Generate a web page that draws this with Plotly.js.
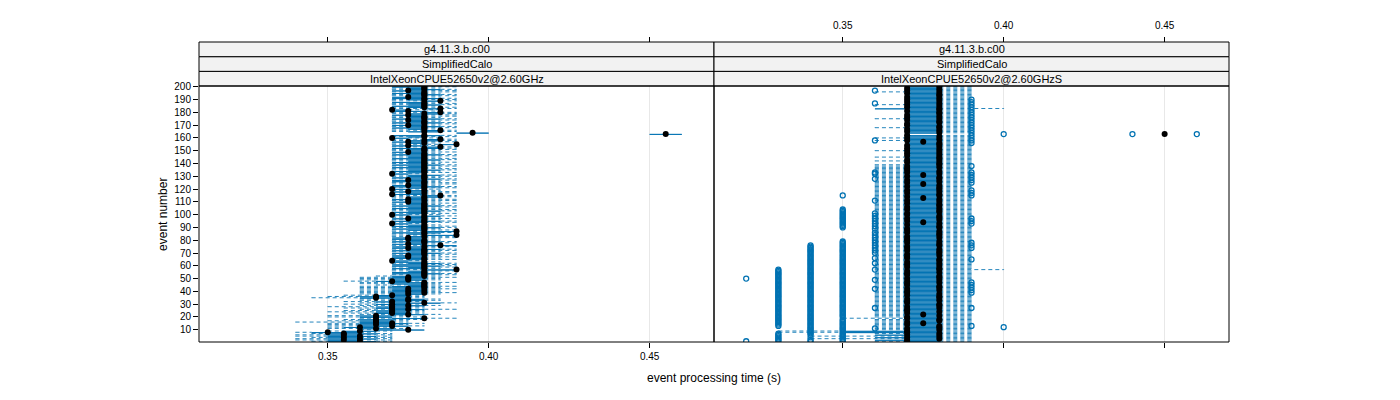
<!DOCTYPE html>
<html>
<head>
<meta charset="utf-8">
<script src="https://cdn.plot.ly/plotly-3.0.1.min.js"></script>
<style>html,body{margin:0;padding:0;background:#fff}#chart{width:1400px;height:400px}</style>
</head>
<body>
<div id="chart"></div>
<script>
// ---------- DATA ----------
const nEvents = 200;
const events = Array.from({length: nEvents}, (_, i) => i + 1);
const yTicks = [10,20,30,40,50,60,70,80,90,100,110,120,130,140,150,160,170,180,190,200];
const xTicks = [0.35, 0.40, 0.45];
const xTickText = ['0.35', '0.40', '0.45'];
const stripGeant = ['g4.11.3.b.c00', 'g4.11.3.b.c00'];
const stripSetup = ['SimplifiedCalo', 'SimplifiedCalo'];
const stripCpu = ['IntelXeonCPUE52650v2@2.60GHz', 'IntelXeonCPUE52650v2@2.60GHzS'];

// Left panel (IntelXeonCPUE52650v2@2.60GHz): per-event box statistics
const L_lo = [
.345,.34,.34,.345,.34,.34,.345,.34,.35,.36,
.35,.35,.35,.35,.35,.34,.35,.355,.36,.35,
.35,.36,.355,.35,.355,.36,.355,.35,.36,.355,
.36,.355,.36,.36,.345,.35,.355,.36,.36,.36,
.36,.36,.36,.36,.365,.36,.36,.355,.36,.36,
.36,.365,.37,.37,.37,.37,.37,.37,.37,.37,
.37,.37,.37,.37,.37,.37,.37,.37,.37,.37,
.37,.37,.37,.37,.37,.37,.37,.37,.37,.37,
.37,.37,.37,.37,.37,.37,.37,.37,.37,.37,
.37,.37,.37,.37,.37,.37,.37,.37,.37,.37,
.37,.37,.37,.37,.37,.37,.37,.37,.37,.37,
.37,.37,.37,.37,.37,.37,.37,.37,.37,.37,
.37,.37,.37,.37,.37,.37,.37,.37,.37,.37,
.37,.37,.37,.37,.37,.37,.37,.37,.37,.37,
.37,.37,.37,.37,.37,.37,.37,.37,.37,.37,
.37,.37,.37,.37,.37,.37,.37,.37,.37,.37,
.37,.37,.45,.39,.37,.37,.37,.37,.37,.37,
.37,.37,.37,.37,.37,.37,.37,.37,.37,.37,
.37,.37,.37,.37,.37,.37,.37,.37,.37,.37,
.37,.37,.37,.37,.37,.37,.37,.37,.37,.37];
const L_q1 = [
.35,.35,.35,.35,.35,.35,.35,.345,.355,.365,
.36,.355,.36,.36,.36,.36,.36,.36,.37,.36,
.36,.37,.365,.365,.365,.37,.365,.365,.37,.365,
.37,.365,.37,.37,.36,.36,.365,.37,.37,.37,
.37,.37,.37,.37,.375,.37,.37,.365,.37,.37,
.37,.37,.375,.37,.37,.375,.38,.37,.375,.37,
.37,.375,.37,.37,.375,.37,.37,.37,.375,.37,
.375,.37,.375,.37,.37,.38,.37,.375,.37,.375,
.37,.37,.375,.38,.375,.37,.38,.375,.37,.375,
.37,.375,.37,.375,.37,.375,.37,.375,.375,.37,
.375,.37,.375,.375,.37,.375,.37,.375,.375,.37,
.375,.37,.375,.375,.38,.37,.375,.37,.375,.37,
.375,.37,.37,.375,.375,.37,.37,.375,.37,.375,
.375,.37,.375,.37,.375,.375,.37,.375,.37,.375,
.37,.375,.375,.37,.375,.375,.37,.375,.37,.375,
.375,.37,.38,.37,.385,.375,.37,.375,.38,.37,
.375,.37,.45,.39,.375,.38,.375,.37,.375,.37,
.375,.37,.375,.375,.37,.375,.375,.37,.375,.38,
.37,.37,.38,.375,.37,.375,.375,.37,.38,.375,
.37,.37,.375,.375,.37,.375,.37,.375,.375,.37];
const L_med = [
.36,.355,.36,.355,.36,.355,.355,.35,.36,.375,
.365,.36,.37,.365,.37,.365,.365,.365,.38,.365,
.365,.375,.37,.37,.37,.375,.37,.37,.375,.37,
.38,.37,.375,.375,.365,.365,.37,.375,.38,.375,
.38,.375,.38,.38,.38,.38,.38,.37,.375,.375,
.375,.38,.38,.38,.38,.38,.39,.38,.38,.38,
.38,.38,.38,.37,.38,.38,.375,.375,.38,.38,
.38,.38,.38,.375,.38,.385,.375,.38,.38,.38,
.375,.375,.38,.39,.38,.38,.39,.38,.38,.38,
.38,.38,.37,.38,.38,.38,.375,.38,.38,.37,
.38,.38,.38,.38,.38,.38,.38,.38,.38,.375,
.38,.375,.38,.38,.385,.37,.38,.375,.38,.37,
.38,.38,.375,.38,.38,.38,.375,.38,.38,.38,
.38,.37,.38,.38,.38,.38,.38,.38,.38,.38,
.38,.38,.38,.38,.38,.38,.38,.38,.375,.38,
.38,.38,.385,.375,.39,.38,.375,.38,.385,.37,
.38,.38,.455,.395,.38,.385,.38,.38,.38,.375,
.38,.38,.38,.375,.38,.38,.38,.375,.38,.385,
.375,.37,.385,.38,.38,.38,.38,.38,.385,.38,
.38,.375,.38,.38,.38,.38,.375,.38,.38,.38];
const L_q3 = [
.365,.36,.365,.36,.365,.36,.365,.36,.365,.38,
.37,.365,.375,.37,.375,.37,.37,.37,.38,.37,
.37,.38,.375,.375,.375,.38,.375,.375,.38,.375,
.385,.375,.38,.38,.375,.375,.375,.38,.38,.38,
.38,.38,.38,.38,.38,.38,.38,.375,.38,.38,
.38,.38,.38,.385,.38,.38,.39,.38,.38,.385,
.38,.385,.38,.375,.38,.38,.38,.38,.38,.385,
.38,.38,.385,.38,.38,.39,.38,.38,.385,.38,
.38,.38,.38,.39,.38,.385,.39,.38,.38,.385,
.38,.38,.375,.38,.385,.38,.38,.38,.385,.375,
.38,.38,.385,.38,.38,.38,.385,.38,.38,.38,
.38,.38,.38,.385,.385,.38,.38,.38,.38,.375,
.38,.385,.38,.38,.38,.38,.38,.385,.38,.38,
.385,.375,.38,.38,.385,.38,.38,.38,.385,.38,
.38,.38,.385,.38,.38,.38,.385,.38,.38,.38,
.38,.385,.385,.38,.39,.38,.38,.385,.385,.375,
.38,.385,.46,.40,.385,.385,.38,.38,.385,.38,
.38,.385,.38,.38,.385,.38,.38,.38,.385,.385,
.38,.375,.385,.38,.38,.385,.38,.38,.385,.38,
.385,.38,.38,.385,.38,.38,.38,.385,.38,.38];
const L_hi = [
.37,.37,.37,.37,.37,.37,.37,.365,.37,.38,
.375,.37,.38,.375,.38,.375,.375,.38,.39,.38,
.375,.385,.38,.38,.38,.39,.38,.38,.385,.38,
.39,.38,.385,.385,.38,.38,.38,.385,.39,.385,
.385,.39,.385,.39,.385,.385,.39,.38,.385,.385,
.39,.385,.39,.39,.385,.39,.39,.385,.39,.39,
.39,.39,.385,.38,.39,.385,.39,.385,.39,.39,
.385,.39,.39,.385,.39,.39,.385,.39,.39,.385,
.385,.39,.39,.39,.385,.39,.39,.39,.385,.39,
.39,.385,.38,.39,.39,.385,.39,.385,.39,.385,
.39,.385,.39,.39,.385,.39,.39,.385,.39,.385,
.39,.39,.385,.39,.39,.385,.39,.39,.385,.385,
.39,.39,.385,.39,.39,.385,.39,.39,.385,.39,
.39,.38,.39,.385,.39,.39,.385,.39,.39,.385,
.39,.385,.39,.39,.385,.39,.39,.385,.39,.385,
.39,.39,.39,.385,.39,.385,.39,.39,.39,.385,
.39,.39,.46,.40,.39,.39,.385,.39,.39,.385,
.39,.39,.385,.39,.39,.385,.39,.39,.39,.39,
.385,.385,.39,.39,.385,.39,.39,.385,.39,.39,
.39,.385,.39,.39,.385,.39,.39,.39,.385,.39];

// Right panel (IntelXeonCPUE52650v2@2.60GHzS)
const R_lo = [
.36,.36,.34,.36,.34,.36,.36,.33,.33,.36,
.36,.36,.36,.36,.36,.36,.36,.36,.35,.36,
.36,.36,.36,.36,.36,.36,.36,.36,.36,.36,
.36,.36,.36,.36,.36,.36,.36,.36,.36,.36,
.36,.36,.36,.36,.36,.36,.36,.36,.36,.36,
.36,.36,.36,.36,.36,.36,.36,.36,.36,.36,
.36,.36,.36,.36,.36,.36,.36,.36,.36,.36,
.36,.36,.36,.36,.36,.36,.36,.36,.36,.36,
.36,.36,.36,.36,.36,.36,.36,.36,.36,.36,
.36,.36,.36,.36,.36,.36,.36,.36,.36,.36,
.36,.36,.36,.36,.36,.36,.36,.36,.36,.36,
.36,.36,.36,.36,.36,.36,.36,.36,.36,.36,
.36,.36,.36,.36,.36,.36,.36,.36,.36,.36,
.36,.36,.36,.36,.36,.36,.36,.36,.36,.37,
.37,.36,.37,.37,.36,.37,.37,.37,.37,.36,
.37,.37,.37,.37,.37,.37,.37,.36,.37,.36,
.37,.37,.45,.37,.37,.37,.37,.36,.37,.37,
.37,.37,.37,.37,.36,.37,.37,.37,.37,.37,
.37,.37,.36,.37,.37,.36,.37,.37,.37,.37,
.37,.37,.37,.37,.37,.36,.37,.37,.37,.37];
const R_q1 = [
.37,.36,.37,.36,.37,.36,.37,.35,.35,.37,
.37,.37,.37,.37,.37,.37,.37,.37,.37,.37,
.37,.37,.37,.37,.37,.37,.37,.37,.37,.37,
.37,.37,.37,.37,.37,.37,.37,.37,.37,.37,
.37,.37,.37,.37,.37,.37,.37,.37,.37,.37,
.37,.37,.37,.37,.37,.37,.37,.37,.37,.37,
.37,.37,.37,.37,.37,.37,.37,.37,.37,.37,
.37,.37,.37,.37,.37,.37,.37,.37,.37,.37,
.37,.37,.37,.37,.37,.37,.37,.37,.37,.37,
.37,.37,.37,.37,.37,.37,.37,.37,.37,.37,
.37,.37,.37,.37,.37,.37,.37,.37,.37,.37,
.37,.37,.37,.37,.37,.37,.37,.37,.37,.37,
.37,.37,.37,.37,.37,.37,.37,.37,.37,.37,
.37,.37,.37,.37,.37,.37,.37,.37,.37,.37,
.37,.37,.37,.37,.37,.37,.37,.37,.37,.37,
.37,.37,.37,.37,.37,.37,.37,.37,.37,.37,
.37,.37,.45,.37,.37,.37,.37,.37,.37,.37,
.37,.37,.37,.37,.37,.37,.37,.37,.37,.37,
.37,.37,.36,.37,.37,.37,.37,.37,.37,.37,
.37,.37,.37,.37,.37,.37,.37,.37,.37,.37];
const R_med = [
.37,.37,.38,.37,.38,.37,.38,.37,.37,.38,
.37,.38,.38,.37,.375,.37,.38,.38,.37,.37,
.38,.375,.37,.38,.37,.37,.38,.37,.38,.38,
.37,.37,.38,.37,.38,.38,.37,.38,.37,.37,
.38,.37,.38,.38,.37,.37,.38,.37,.38,.37,
.38,.38,.37,.37,.38,.37,.38,.38,.37,.38,
.37,.38,.37,.38,.38,.37,.37,.38,.37,.38,
.38,.37,.38,.37,.37,.38,.38,.37,.38,.37,
.37,.38,.37,.38,.38,.37,.38,.37,.37,.38,
.38,.37,.38,.375,.37,.38,.37,.38,.38,.37,
.37,.38,.38,.37,.38,.37,.38,.38,.37,.38,
.37,.38,.375,.37,.38,.38,.37,.38,.37,.38,
.38,.37,.38,.375,.37,.38,.37,.38,.38,.37,
.375,.38,.37,.38,.37,.37,.38,.37,.38,.38,
.37,.38,.37,.38,.38,.37,.38,.37,.38,.37,
.38,.37,.38,.37,.38,.38,.375,.37,.38,.37,
.38,.37,.45,.38,.37,.38,.37,.38,.38,.37,
.37,.38,.38,.37,.38,.37,.38,.37,.38,.38,
.37,.38,.38,.37,.38,.37,.38,.37,.38,.37,
.38,.37,.38,.38,.37,.38,.37,.38,.37,.38];
const R_q3 = [
.38,.38,.38,.38,.38,.38,.38,.38,.38,.38,
.38,.38,.38,.38,.38,.38,.38,.38,.38,.38,
.38,.38,.38,.38,.38,.38,.38,.38,.38,.38,
.38,.38,.38,.38,.38,.38,.38,.38,.38,.38,
.38,.38,.38,.38,.38,.38,.38,.38,.38,.38,
.38,.38,.38,.38,.38,.38,.38,.38,.38,.38,
.38,.38,.38,.38,.38,.38,.38,.38,.38,.38,
.38,.38,.38,.38,.38,.38,.38,.38,.38,.38,
.38,.38,.38,.38,.38,.38,.38,.38,.38,.38,
.38,.38,.38,.38,.38,.38,.38,.38,.38,.38,
.38,.38,.38,.38,.38,.38,.38,.38,.38,.38,
.38,.38,.38,.38,.38,.38,.38,.38,.38,.38,
.38,.38,.38,.38,.38,.38,.38,.38,.38,.38,
.38,.38,.38,.38,.38,.38,.38,.38,.38,.38,
.38,.38,.38,.38,.38,.38,.38,.38,.38,.38,
.38,.38,.38,.38,.38,.38,.38,.38,.38,.38,
.38,.38,.45,.38,.38,.38,.38,.38,.38,.38,
.38,.38,.38,.38,.38,.38,.38,.38,.38,.38,
.38,.38,.38,.38,.38,.38,.38,.38,.38,.38,
.38,.38,.38,.38,.38,.38,.38,.38,.38,.38];
const R_hi = [
.39,.39,.39,.39,.39,.39,.39,.39,.39,.39,
.39,.39,.39,.39,.39,.39,.39,.39,.39,.39,
.39,.39,.39,.39,.39,.39,.39,.39,.39,.39,
.39,.39,.39,.39,.39,.39,.39,.39,.39,.39,
.39,.39,.39,.39,.39,.39,.39,.39,.39,.39,
.39,.39,.39,.39,.39,.39,.40,.39,.39,.39,
.39,.39,.39,.39,.39,.39,.39,.39,.39,.39,
.39,.39,.39,.39,.39,.39,.39,.39,.39,.39,
.39,.39,.39,.39,.39,.39,.39,.39,.39,.39,
.39,.39,.39,.39,.39,.39,.39,.39,.39,.39,
.39,.39,.39,.39,.39,.39,.39,.39,.39,.39,
.39,.39,.39,.39,.39,.39,.39,.39,.39,.39,
.39,.39,.39,.39,.39,.39,.39,.39,.39,.39,
.39,.39,.39,.39,.39,.39,.39,.39,.39,.39,
.39,.39,.39,.39,.39,.39,.39,.39,.39,.39,
.39,.39,.39,.39,.39,.39,.39,.39,.39,.39,
.39,.39,.45,.39,.39,.39,.39,.39,.39,.39,
.39,.39,.39,.39,.39,.39,.39,.39,.39,.39,
.39,.39,.40,.39,.39,.39,.39,.39,.39,.39,
.39,.39,.39,.39,.39,.39,.39,.39,.39,.39];

// Right panel outliers: event numbers having an outlying run at the given time
const R_out032 = [1, 50];
const R_out033 = [1,2,3,4,5,6,7,13,14,15,16,17,18,19,20,21,22,23,24,25,26,27,28,29,30,31,32,33,34,35,
  36,37,38,39,40,41,42,43,44,45,46,47,48,49,50,51,52,53,54,55,56,57];
const R_out034 = [1,2,4,6,7,8,9,10,11,12,13,14,15,16,17,18,19,20,21,22,23,24,25,26,27,28,29,30,31,32,
  33,34,35,36,37,38,39,40,41,42,43,44,45,46,47,48,49,50,51,52,53,54,55,56,57,58,59,60,61,62,
  63,64,65,66,67,68,69,70,71,72,73,74,75,76];
const R_out035 = [1,2,3,4,5,6,7,8,9,10,11,12,13,14,15,16,17,18,20,21,22,23,24,25,26,27,28,29,30,31,
  32,33,34,35,36,37,38,39,40,41,42,43,44,45,46,47,48,49,50,51,52,53,54,55,56,57,58,59,60,61,
  62,63,64,65,66,67,68,69,70,71,72,73,74,75,76,77,78,79,90,91,92,93,94,95,96,97,98,99,100,101,
  102,103,104,115];
const R_out036 = [11,27,42,49,57,62,66,70,72,74,76,78,80,82,84,86,89,91,93,95,97,99,101,111,128,132,133,158,187,197];
const R_out039 = [13,27,39,41,43,45,47,65,74,76,78,93,95,97,115,117,119,125,127,129,131,133,138,
  156,158,160,162,164,166,168,170,172,174,176,178,180,182,184,186,188,190];
const R_out040 = [12, 163];
const R_out044 = [163];
const R_out046 = [163];

// ---------- BUILD ----------
const BLUE = '#0072B2';
const H = 0.25;

function panelTraces(lo, q1, med, q3, hi, outs, xa, ya) {
  const bx = [], by = [], wx = [], wy = [], cx = [], cy = [];
  for (let i = 0; i < events.length; i++) {
    const e = events[i];
    if (lo[i] < q1[i]) {
      wx.push(lo[i], q1[i], null); wy.push(e, e, null);
      cx.push(lo[i], lo[i], null); cy.push(e - H, e + H, null);
    }
    if (hi[i] > q3[i]) {
      wx.push(q3[i], hi[i], null); wy.push(e, e, null);
      cx.push(hi[i], hi[i], null); cy.push(e - H, e + H, null);
    }
    bx.push(q1[i], q3[i], q3[i], q1[i], q1[i], null);
    by.push(e - H, e - H, e + H, e + H, e - H, null);
  }
  const ox = [], oy = [];
  outs.forEach(([val, evs]) => evs.forEach(ev => { ox.push(val); oy.push(ev); }));
  const common = {xaxis: xa, yaxis: ya, hoverinfo: 'skip', showlegend: false, type: 'scatter'};
  return [
    Object.assign({x: wx, y: wy, mode: 'lines', line: {color: BLUE, width: 1, dash: '4px,3px'}, opacity: 0.85}, common),
    Object.assign({x: cx, y: cy, mode: 'lines', line: {color: BLUE, width: 0.8}, opacity: 0.6}, common),
    Object.assign({x: bx, y: by, mode: 'lines', line: {color: BLUE, width: 0.9}}, common),
    Object.assign({x: ox, y: oy, mode: 'markers', marker: {symbol: 'circle-open', size: 5, color: BLUE, line: {width: 1.3, color: BLUE}}}, common),
    Object.assign({x: med, y: events, mode: 'markers', marker: {symbol: 'circle', size: 6, color: '#000'}}, common)
  ];
}

const traces = [].concat(
  panelTraces(L_lo, L_q1, L_med, L_q3, L_hi, [], 'x', 'y'),
  panelTraces(R_lo, R_q1, R_med, R_q3, R_hi,
    [[0.32, R_out032], [0.33, R_out033], [0.34, R_out034], [0.35, R_out035], [0.36, R_out036],
     [0.39, R_out039], [0.40, R_out040], [0.44, R_out044], [0.46, R_out046]], 'x2', 'y2'),
  [
    {x: [0.4], y: [100], xaxis: 'x3', yaxis: 'y', mode: 'markers', marker: {opacity: 0}, hoverinfo: 'skip', showlegend: false},
    {x: [0.4], y: [100], xaxis: 'x4', yaxis: 'y2', mode: 'markers', marker: {opacity: 0}, hoverinfo: 'skip', showlegend: false}
  ]
);

const FONT = 'Liberation Sans, Arial, Helvetica, sans-serif';
const D = 256 / 300;             // top of panels in paper units
const S = (1 - D) / 3;           // strip height
const xr = [0.31, 0.47];
const yr = [0.4, 200.6];

const axX = {range: xr, tickvals: xTicks, ticktext: xTickText, ticks: 'outside', ticklen: 5,
  tickwidth: 1, tickcolor: '#000', showline: false, zeroline: false, fixedrange: true,
  tickfont: {size: 10, color: '#000', family: FONT}};

const shapes = [];
const annotations = [];
[[0, 0.5, 0], [0.5, 1, 1]].forEach(([x0, x1, p]) => {
  const labels = [stripCpu[p], stripSetup[p], stripGeant[p]];
  for (let k = 0; k < 3; k++) {
    shapes.push({type: 'rect', xref: 'paper', yref: 'paper', x0: x0, x1: x1, y0: D + k * S, y1: D + (k + 1) * S,
      fillcolor: '#f2f2f2', line: {color: '#000', width: 1}, layer: 'above'});
    annotations.push({xref: 'paper', yref: 'paper', x: (x0 + x1) / 2, y: D + (k + 0.5) * S, text: labels[k],
      showarrow: false, xanchor: 'center', yanchor: 'middle', font: {size: 11, color: '#000', family: FONT}});
  }
  shapes.push({type: 'rect', xref: 'paper', yref: 'paper', x0: x0, x1: x1, y0: 0, y1: D,
    line: {color: '#000', width: 1}, fillcolor: 'rgba(0,0,0,0)', layer: 'above'});
});
annotations.push({xref: 'paper', yref: 'paper', x: 0.5, y: -0.12, text: 'event processing time (s)',
  showarrow: false, xanchor: 'center', yanchor: 'middle', font: {size: 12, color: '#000', family: FONT}});
annotations.push({xref: 'paper', yref: 'paper', x: -0.035, y: D / 2, text: 'event number', textangle: -90,
  showarrow: false, xanchor: 'center', yanchor: 'middle', font: {size: 12, color: '#000', family: FONT}});

const layout = {
  width: 1400, height: 400,
  margin: {l: 199, r: 171, t: 42, b: 58, pad: 0},
  paper_bgcolor: '#fff', plot_bgcolor: '#fff',
  showlegend: false,
  font: {family: FONT, size: 10, color: '#000'},
  xaxis: Object.assign({}, axX, {domain: [0, 0.5], anchor: 'y', showgrid: true, gridcolor: '#e8e8e8', gridwidth: 1}),
  xaxis2: Object.assign({}, axX, {domain: [0.5, 1], anchor: 'y2', showgrid: true, gridcolor: '#e8e8e8', gridwidth: 1, showticklabels: false}),
  xaxis3: Object.assign({}, axX, {overlaying: 'x', side: 'top', anchor: 'free', position: 1, showgrid: false, showticklabels: false}),
  xaxis4: Object.assign({}, axX, {overlaying: 'x2', side: 'top', anchor: 'free', position: 1, showgrid: false, ticklabelstandoff: 4}),
  yaxis: {domain: [0, D], anchor: 'x', range: yr, tickvals: yTicks, ticks: 'outside', ticklen: 5, tickwidth: 1,
    tickcolor: '#000', showgrid: false, zeroline: false, showline: false, fixedrange: true,
    tickfont: {size: 10, color: '#000', family: FONT}},
  yaxis2: {domain: [0, D], anchor: 'x2', range: yr, tickvals: yTicks, ticks: '', showticklabels: false,
    showgrid: false, zeroline: false, showline: false, fixedrange: true},
  shapes: shapes,
  annotations: annotations
};

Plotly.newPlot('chart', traces, layout, {staticPlot: true, displayModeBar: false});
</script>
</body>
</html>
